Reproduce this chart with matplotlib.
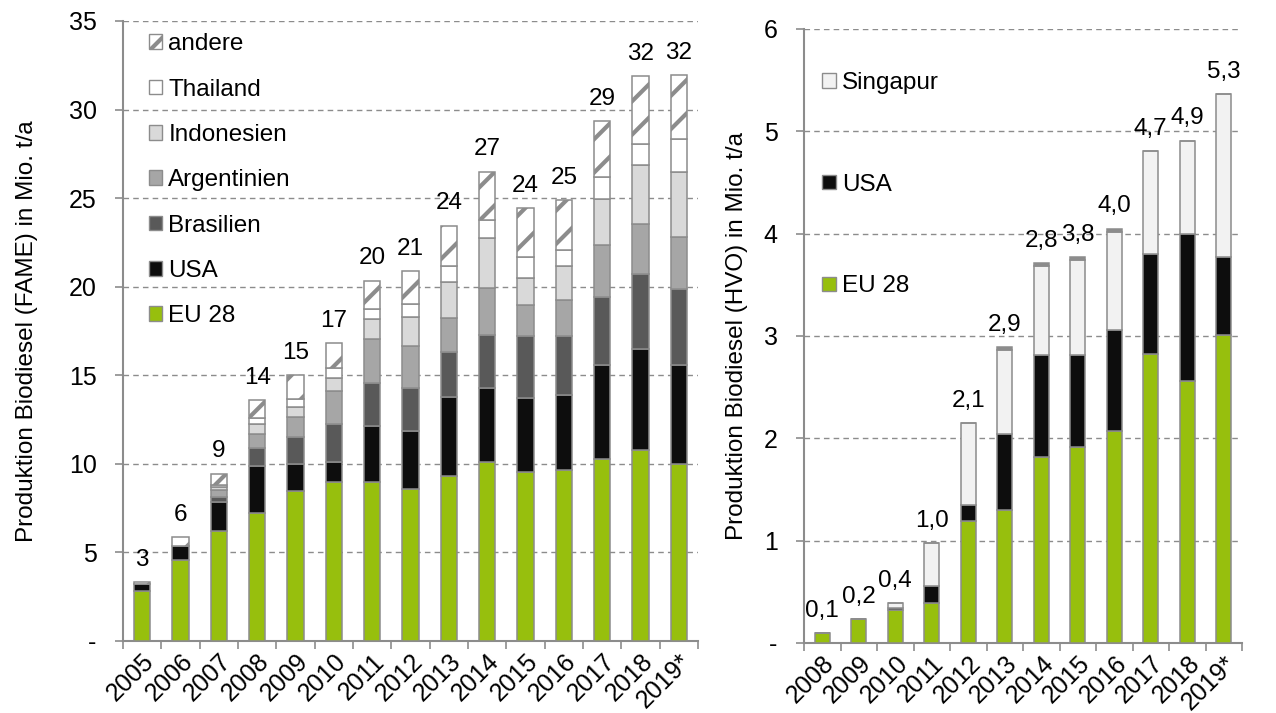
import numpy as np
import matplotlib
matplotlib.use('Agg')
import matplotlib.pyplot as plt
from matplotlib.patches import Patch
from matplotlib.ticker import FixedLocator

plt.rcParams['font.family'] = ['Liberation Sans', 'DejaVu Sans']
plt.rcParams['font.size'] = 17.5
plt.rcParams['hatch.linewidth'] = 3.0

# linkes Diagramm: FAME, Mio. t/a
jahre_fame = ['2005', '2006', '2007', '2008', '2009', '2010', '2011', '2012',
              '2013', '2014', '2015', '2016', '2017', '2018', '2019*']
eu_fame = [2.8, 4.6, 6.2, 7.25, 8.45, 9.0, 9.0, 8.6, 9.3, 10.1, 9.55, 9.65, 10.3, 10.8, 10.0]
usa_fame = [0.4, 0.75, 1.65, 2.65, 1.55, 1.1, 3.15, 3.25, 4.45, 4.2, 4.15, 4.25, 5.3, 5.7, 5.6]
brasilien = [0, 0, 0.3, 1.0, 1.5, 2.15, 2.4, 2.45, 2.55, 3.0, 3.5, 3.3, 3.8, 4.2, 4.25]
argentinien = [0, 0, 0.35, 0.8, 1.15, 1.85, 2.5, 2.35, 1.95, 2.6, 1.75, 2.05, 2.95, 2.85, 2.95]
indonesien = [0, 0, 0.2, 0.55, 0.55, 0.75, 1.15, 1.65, 2.0, 2.85, 1.55, 1.9, 2.6, 3.3, 3.7]
thailand = [0, 0, 0.1, 0.35, 0.45, 0.55, 0.55, 0.75, 0.9, 1.0, 1.15, 0.9, 1.25, 1.2, 1.85]
andere = [0.15, 0.5, 0.65, 1.0, 1.35, 1.4, 1.6, 1.85, 2.3, 2.75, 2.8, 2.85, 3.15, 3.85, 3.6]
labels_fame = ['3', '6', '9', '14', '15', '17', '20', '21', '24', '27', '24', '25', '29', '32', '32']

# rechtes Diagramm: HVO, Mio. t/a
jahre_hvo = ['2008', '2009', '2010', '2011', '2012', '2013', '2014', '2015',
             '2016', '2017', '2018', '2019*']
eu_hvo = [0.1, 0.23, 0.32, 0.39, 1.19, 1.3, 1.82, 1.92, 2.07, 2.82, 2.56, 3.01]
usa_hvo = [0, 0, 0.02, 0.17, 0.16, 0.74, 0.99, 0.89, 0.99, 0.98, 1.44, 0.76]
singapur = [0, 0, 0.05, 0.42, 0.8, 0.82, 0.87, 0.93, 0.96, 1.01, 0.91, 1.59]
rest_hvo = [0, 0, 0, 0, 0, 0.03, 0.03, 0.03, 0.03, 0, 0, 0]
labels_hvo = ['0,1', '0,2', '0,4', '1,0', '2,1', '2,9', '2,8', '3,8', '4,0', '4,7', '4,9', '5,3']

GRUEN = '#97BF0D'
RAND = '#8C8C8C'
GRID = '#8C8C8C'

W, H = 1276, 713
fig = plt.figure(figsize=(W / 100, H / 100), dpi=100)


def achse(px_l, px_r, px_t, px_b):
    return fig.add_axes([px_l / W, 1 - px_b / H, (px_r - px_l) / W, (px_b - px_t) / H])


def stapel(ax, serien, breite):
    x = np.arange(len(serien[0][0]))
    unten = np.zeros(len(x))
    for werte, farbe, hatch, name in serien:
        werte = np.array(werte, dtype=float)
        ax.bar(x, werte, breite, bottom=unten, color=farbe, edgecolor=RAND,
               linewidth=1.1, hatch=hatch, label=name, zorder=3)
        unten += werte
    return x, unten


def stil(ax, jahre, ymax, ystep, ylabel):
    n = len(jahre)
    ax.set_xlim(-0.5, n - 0.5)
    ax.set_ylim(0, ymax)
    ticks = np.arange(0, ymax + 0.01, ystep)
    ax.set_yticks(ticks)
    ax.set_yticklabels(['-'] + ['%g' % t for t in ticks[1:]])
    ax.yaxis.grid(True, color=GRID, linestyle=(0, (4, 3)), linewidth=1.0)
    ax.set_axisbelow(True)
    ax.set_xticks(np.arange(n))
    ax.set_xticklabels(jahre, rotation=45, ha='right', va='top', rotation_mode='anchor')
    ax.xaxis.set_minor_locator(FixedLocator(np.arange(-0.5, n, 1.0)))
    ax.tick_params(axis='x', which='major', length=0, pad=6, labelsize=18)
    ax.tick_params(axis='x', which='minor', length=6, color=RAND, width=1.2)
    ax.tick_params(axis='y', length=6, color=RAND, width=1.2, pad=13, labelsize=18)
    for s in ['top', 'right']:
        ax.spines[s].set_visible(False)
    for s in ['left', 'bottom']:
        ax.spines[s].set_color(RAND)
        ax.spines[s].set_linewidth(1.5)
    ax.set_ylabel(ylabel)


def beschriften(ax, x, summe, texte):
    for xi, yi, t in zip(x, summe, texte):
        ax.annotate(t, (xi, yi), xytext=(0, 8), textcoords='offset points',
                    ha='center', va='bottom')


# --- FAME ---
ax1 = achse(123, 698, 21, 641)
serien_fame = [
    (eu_fame, GRUEN, None, 'EU 28'),
    (usa_fame, '#0D0D0D', None, 'USA'),
    (brasilien, '#595959', None, 'Brasilien'),
    (argentinien, '#A6A6A6', None, 'Argentinien'),
    (indonesien, '#D9D9D9', None, 'Indonesien'),
    (thailand, 'white', None, 'Thailand'),
    (andere, 'white', '/', 'andere'),
]
x1, sum1 = stapel(ax1, serien_fame, 0.42)
stil(ax1, jahre_fame, 35, 5, 'Produktion Biodiesel (FAME) in Mio. t/a')
ax1.yaxis.set_label_coords(-0.148, 0.5)
beschriften(ax1, x1, sum1, labels_fame)
h1 = [Patch(facecolor=f, edgecolor=RAND, hatch=h, label=n) for _, f, h, n in serien_fame][::-1]
ax1.legend(handles=h1, loc='upper left', bbox_to_anchor=(0.045, 0.98), frameon=False,
           handlelength=0.55, handleheight=0.55, handletextpad=0.25,
           labelspacing=0.96, borderpad=0, borderaxespad=0)

# --- HVO ---
ax2 = achse(804, 1242, 29, 643)
serien_hvo = [
    (eu_hvo, GRUEN, None, 'EU 28'),
    (usa_hvo, '#0D0D0D', None, 'USA'),
    (singapur, '#F2F2F2', None, 'Singapur'),
    (rest_hvo, RAND, None, '_rest'),
]
x2, sum2 = stapel(ax2, serien_hvo, 0.42)
stil(ax2, jahre_hvo, 6, 1, 'Produktion Biodiesel (HVO) in Mio. t/a')
ax2.yaxis.set_label_coords(-0.128, 0.5)
beschriften(ax2, x2, sum2, labels_hvo)
h2 = [Patch(facecolor=f, edgecolor=RAND, label=n) for _, f, h, n in serien_hvo[:3]][::-1]
ax2.legend(handles=h2, loc='upper left', bbox_to_anchor=(0.042, 0.93), frameon=False,
           handlelength=0.55, handleheight=0.55, handletextpad=0.25,
           labelspacing=3.28, borderpad=0, borderaxespad=0)

fig.savefig('out.png', dpi=100)
